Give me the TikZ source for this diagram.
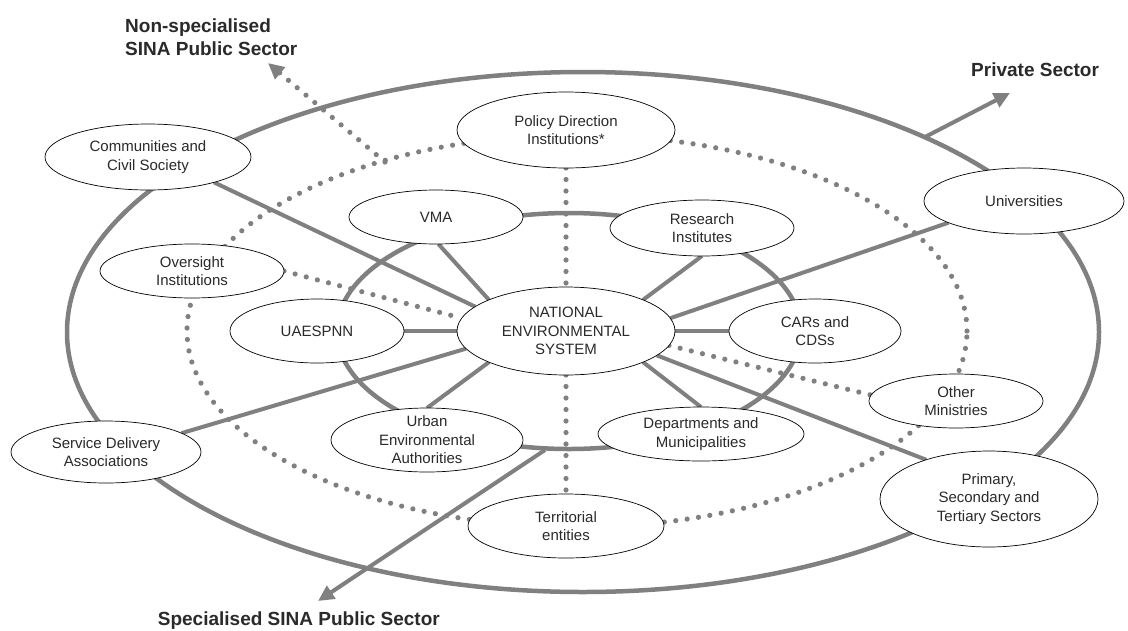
\documentclass[tikz,border=0pt]{standalone}
\usepackage{fontspec}
\setmainfont{Liberation Sans}
\usetikzlibrary{shapes.geometric,arrows.meta,backgrounds}
\definecolor{ringgray}{HTML}{808080}
\definecolor{labelink}{HTML}{2A2A2A}

\begin{document}
\begin{tikzpicture}[x=1pt,y=-1pt,
  org/.style={ellipse, draw=black, line width=0.7pt, fill=white, inner sep=-4pt,
    outer sep=0pt, align=center, text=labelink, font=\fontsize{15}{18.5}\selectfont},
  ring/.style={draw=ringgray, line width=4.5pt},
  spoke/.style={draw=ringgray, line width=4pt},
  dots/.style={draw=ringgray, line width=5.2pt, line cap=round, dash pattern=on 0pt off 11.5pt},
  sector/.style={font=\fontsize{19}{23}\selectfont\bfseries, text=labelink, align=left, inner sep=0pt},
  tip/.style={-{Triangle[length=16pt,width=15pt]}}
]
\useasboundingbox (0,0) rectangle (1128,630);

% organisations of the system
\node[org, minimum width=206pt, minimum height=66pt] (comm) at (148,157) {Communities and\\Civil Society};
\node[org, minimum width=218pt, minimum height=76pt] (policy) at (566,130) {Policy Direction\\Institutions*};
\node[org, minimum width=174pt, minimum height=54pt] (vma) at (436,217) {VMA};
\node[org, minimum width=184pt, minimum height=56pt] (research) at (702,228) {Research\\Institutes};
\node[org, minimum width=200pt, minimum height=66pt] (univ) at (1024,201) {Universities};
\node[org, minimum width=184pt, minimum height=54pt] (oversight) at (192,271) {Oversight\\Institutions};
\node[org, minimum width=174pt, minimum height=64pt] (uaespnn) at (317,331) {UAESPNN};
\node[org, minimum width=218pt, minimum height=88pt] (nes) at (566,331) {NATIONAL\\ENVIRONMENTAL\\SYSTEM};
\node[org, minimum width=172pt, minimum height=64pt] (cars) at (815,331) {CARs and\\CDSs};
\node[org, minimum width=174pt, minimum height=54pt] (othermin) at (956,401) {Other\\Ministries};
\node[org, minimum width=190pt, minimum height=62pt] (service) at (106,452) {Service Delivery\\Associations};
\node[org, minimum width=192pt, minimum height=64pt] (urban) at (427,440) {Urban\\Environmental\\Authorities};
\node[org, minimum width=206pt, minimum height=54pt] (depts) at (701,434) {Departments and\\Municipalities};
\node[org, minimum width=196pt, minimum height=64pt] (territorial) at (566,526) {Territorial\\entities};
\node[org, minimum width=218pt, minimum height=96pt] (primary) at (989,499) {Primary,\\Secondary and\\Tertiary Sectors};

% sector labels
\node[sector, anchor=north west] (nonspec) at (125,19) {Non-specialised\\SINA Public Sector};
\node[sector, anchor=base west] (private) at (971,76) {Private Sector};
\node[sector, anchor=base east] (spec) at (440,625) {Specialised SINA Public Sector};

% free ends of the sector arrows
\coordinate (nonspecStart) at (385,162);
\coordinate (nonspecTip) at (268,63);
\coordinate (privStart) at (925,137);
\coordinate (privTip) at (1010,93);
\coordinate (specStart) at (545,450);
\coordinate (specTip) at (318,601);

\begin{pgfonlayer}{background}
  \fill[white] (0,0) rectangle (1128,630);
  % rings
  \draw[dots] (577,331) ellipse [x radius=390pt, y radius=196pt];
  \draw[ring] (583,332) ellipse [x radius=516pt, y radius=260pt];
  \draw[ring] (569,331) ellipse [x radius=232pt, y radius=118pt];

  % solid links to the national system
  \draw[spoke] (comm.-21) -- (nes.165);
  \draw[spoke] (vma.-85) -- (nes.158);
  \draw[spoke] (research.-90) -- (nes.22);
  \draw[spoke] (univ.-164) -- (nes.7);
  \draw[spoke] (uaespnn.east) -- (nes.west);
  \draw[spoke] (nes.east) -- (cars.west);
  \draw[spoke] (service.14) -- (nes.190);
  \draw[spoke] (urban.north) -- (nes.-158);
  \draw[spoke] (depts.north) -- (nes.-22);
  \draw[spoke] (nes.-15) -- (primary.148);

  % dotted links
  \draw[dots] (oversight.east) -- (nes.173);
  \draw[dots] (policy.south) -- (nes.north);
  \draw[dots] (nes.south) -- (territorial.north);
  \draw[dots] (nes.-8) -- (othermin.176);

  % sector arrows
  \draw[dots, tip] (nonspecStart) -- (nonspecTip);
  \draw[spoke, tip] (privStart) -- (privTip);
  \draw[spoke, tip] (specStart) -- (specTip);
\end{pgfonlayer}
\end{tikzpicture}
\end{document}
